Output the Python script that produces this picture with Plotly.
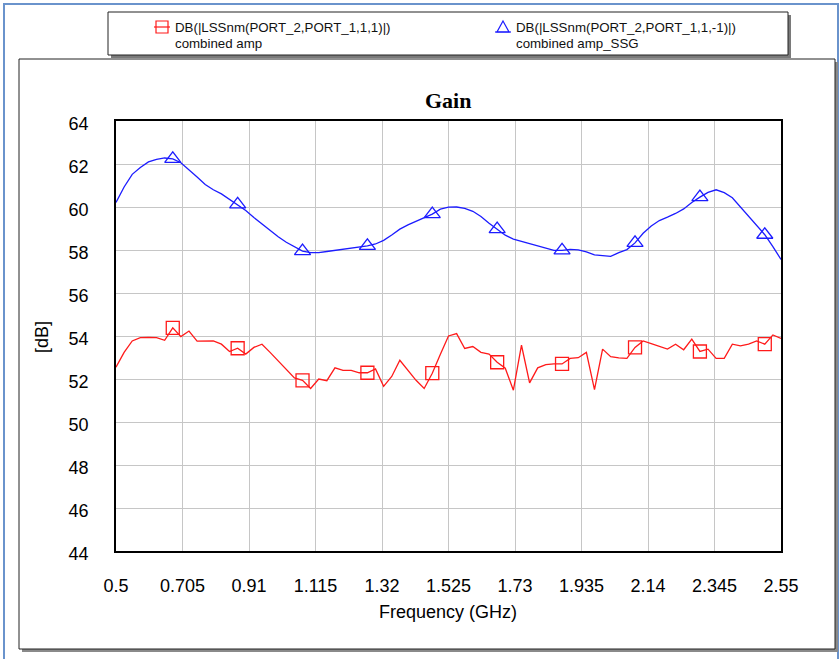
import plotly.graph_objects as go

# Frequency sweep (GHz), 0.5 to 2.55 in 25 MHz steps
freq_start = 0.5
freq_step = 0.025

# DB(|LSSnm(PORT_2,PORT_1,1,1)|) - combined amp
gain_amp = [
    52.55, 53.24, 53.77, 53.92, 53.93, 53.92, 53.80, 54.38, 53.97, 54.23,
    53.76, 53.77, 53.77, 53.62, 53.28, 53.43, 53.16, 53.47, 53.62, 53.24,
    52.85, 52.47, 52.05, 51.94, 51.56, 52.00, 51.92, 52.52, 52.40, 52.40,
    52.29, 52.29, 52.47, 51.66, 52.12, 52.87, 52.40, 51.94, 51.56, 52.27,
    53.15, 54.00, 54.11, 53.42, 53.51, 53.24, 53.16, 52.78, 52.50, 51.48,
    53.57, 51.82, 52.52, 52.67, 52.70, 52.70, 52.96, 52.99, 53.24, 51.51,
    53.39, 53.04, 52.98, 52.96, 53.47, 53.77, 53.65, 53.51, 53.39, 53.62,
    53.36, 53.85, 53.28, 53.39, 52.96, 52.96, 53.62, 53.54, 53.62, 53.77,
    53.62, 54.05, 53.89,
]

# DB(|LSSnm(PORT_2,PORT_1,1,-1)|) - combined amp_SSG
gain_ssg = [
    60.21, 60.93, 61.52, 61.84, 62.10, 62.22, 62.28, 62.24, 62.06, 61.74,
    61.40, 61.05, 60.80, 60.61, 60.36, 60.12, 59.84, 59.51, 59.20, 58.90,
    58.62, 58.36, 58.14, 57.95, 57.88, 57.88, 57.93, 57.98, 58.03, 58.09,
    58.15, 58.19, 58.28, 58.45, 58.70, 58.97, 59.17, 59.33, 59.52, 59.67,
    59.90, 59.99, 60.00, 59.94, 59.80, 59.56, 59.24, 58.97, 58.69, 58.51,
    58.40, 58.29, 58.20, 58.08, 57.98, 57.98, 58.03, 58.01, 57.91, 57.77,
    57.72, 57.70, 57.88, 58.02, 58.33, 58.78, 59.12, 59.37, 59.53, 59.70,
    59.91, 60.21, 60.46, 60.68, 60.80, 60.67, 60.43, 60.00, 59.57, 59.15,
    58.71, 58.16, 57.56,
]

# Sweep points that carry a trace marker
marker_idx = [7, 15, 23, 31, 39, 47, 55, 64, 72, 80]

x_ticks = [0.5, 0.705, 0.91, 1.115, 1.32, 1.525, 1.73, 1.935, 2.14, 2.345, 2.55]
x_tick_text = ["0.5", "0.705", "0.91", "1.115", "1.32", "1.525", "1.73", "1.935", "2.14", "2.345", "2.55"]
y_ticks = [44, 46, 48, 50, 52, 54, 56, 58, 60, 62, 64]

freq = [round(freq_start + i * freq_step, 4) for i in range(len(gain_amp))]

RED = "#ff1a1a"
BLUE = "#1c1cff"
FONT = "Liberation Sans, Arial, sans-serif"

# Figure geometry (pixels)
W, H = 840, 659
L, R, T, B = 116, 781, 121, 551


def px(x):
    return (x - L) / (R - L)


def py(y):
    return (B - y) / (B - T)


fig = go.Figure()

for ys, color, sym, size in [
    (gain_amp, RED, "square-open", 13),
    (gain_ssg, BLUE, "triangle-up-open", 14),
]:
    fig.add_trace(go.Scatter(
        x=freq, y=ys, mode="lines",
        line=dict(color=color, width=1.3),
        showlegend=False, hoverinfo="skip",
    ))
    fig.add_trace(go.Scatter(
        x=[freq[i] for i in marker_idx], y=[ys[i] for i in marker_idx],
        mode="markers",
        marker=dict(symbol=sym, size=size, color=color, line=dict(width=1.3, color=color)),
        showlegend=False, hoverinfo="skip",
    ))

shapes = []


def rect(x0, y0, x1, y1, **kw):
    shapes.append(dict(type="rect", xref="paper", yref="paper",
                       x0=px(x0), x1=px(x1), y0=py(y1), y1=py(y0), **kw))


# Outer window frame
rect(4, 4, 838, 664, line=dict(color="#6a93cc", width=2), fillcolor="rgba(0,0,0,0)", layer="below")
# Chart panel with drop shadow
rect(22, 62, 838, 652, line=dict(width=0), fillcolor="#8a8a8a", layer="below")
rect(19, 59, 835, 649, line=dict(color="#222222", width=1), fillcolor="white", layer="below")
# Legend box with drop shadow
rect(111, 15, 791, 58, line=dict(width=0), fillcolor="#7a7a7a", layer="below")
rect(108, 12, 788, 55, line=dict(color="#222222", width=1), fillcolor="white", layer="below")

# Legend symbols
shapes.append(dict(type="line", xref="paper", yref="paper",
                   x0=px(154), x1=px(170), y0=py(27), y1=py(27), line=dict(color=RED, width=1.2)))
rect(156, 21, 168, 33, line=dict(color=RED, width=1.2), fillcolor="rgba(0,0,0,0)")
shapes.append(dict(type="line", xref="paper", yref="paper",
                   x0=px(495), x1=px(511), y0=py(32), y1=py(32), line=dict(color=BLUE, width=1.2)))
shapes.append(dict(type="path", xref="paper", yref="paper",
                   path=f"M {px(503)} {py(21)} L {px(509)} {py(32)} L {px(497)} {py(32)} Z",
                   line=dict(color=BLUE, width=1.2), fillcolor="rgba(0,0,0,0)"))

annotations = [
    dict(text="DB(|LSSnm(PORT_2,PORT_1,1,1)|)", x=px(173), y=py(27)),
    dict(text="combined amp", x=px(173), y=py(43)),
    dict(text="DB(|LSSnm(PORT_2,PORT_1,1,-1)|)", x=px(514), y=py(27)),
    dict(text="combined amp_SSG", x=px(514), y=py(43)),
]
for a in annotations:
    a.update(xref="paper", yref="paper", xanchor="left", yanchor="middle",
             showarrow=False, font=dict(family=FONT, size=13.3, color="#111111"))

annotations += [
    dict(text="<b>Gain</b>", x=px(448), y=py(100), xref="paper", yref="paper",
         xanchor="center", yanchor="middle", showarrow=False,
         font=dict(family="Liberation Serif, Times New Roman, serif", size=22, color="black")),
    dict(text="Frequency (GHz)", x=px(448), y=py(612), xref="paper", yref="paper",
         xanchor="center", yanchor="middle", showarrow=False,
         font=dict(family=FONT, size=18, color="black")),
    dict(text="[dB]", x=px(42), y=py(337), xref="paper", yref="paper", textangle=-90,
         xanchor="center", yanchor="middle", showarrow=False,
         font=dict(family=FONT, size=18, color="black")),
]

fig.update_layout(
    width=W, height=H,
    margin=dict(l=L, r=W - R, t=T, b=H - B),
    paper_bgcolor="white", plot_bgcolor="white",
    shapes=shapes, annotations=annotations,
    font=dict(family=FONT, size=18, color="black"),
)

fig.update_xaxes(
    range=[0.5, 2.55], tickvals=x_ticks, ticktext=x_tick_text,
    showgrid=True, gridcolor="#c6c6c6", gridwidth=1.3,
    showline=True, linecolor="black", linewidth=1.5, mirror=True,
    ticks="", ticklabelstandoff=18, zeroline=False,
    tickfont=dict(family=FONT, size=18, color="black"),
)
fig.update_yaxes(
    range=[44, 64], tickvals=y_ticks,
    showgrid=True, gridcolor="#c6c6c6", gridwidth=1.3,
    showline=True, linecolor="black", linewidth=1.5, mirror=True,
    ticks="", ticklabelstandoff=22, ticklabelshift=3, zeroline=False,
    tickfont=dict(family=FONT, size=18, color="black"),
)

fig.write_html("out.html")
